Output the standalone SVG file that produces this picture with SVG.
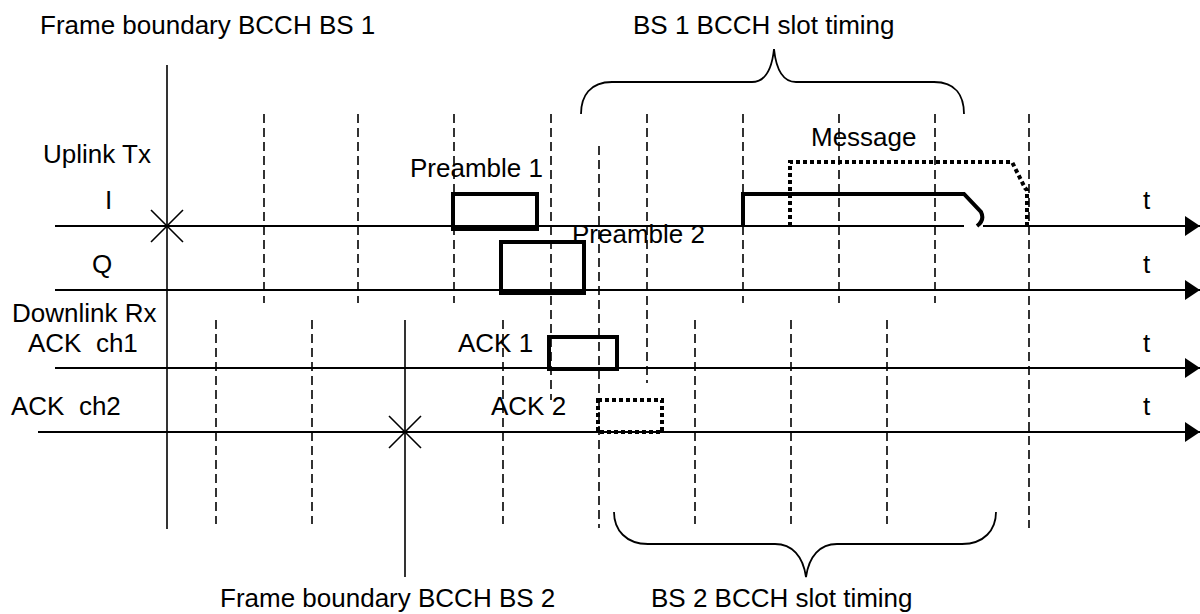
<svg xmlns="http://www.w3.org/2000/svg" width="1200" height="614" viewBox="0 0 1200 614">
<defs>
<style>
text{font-family:"Liberation Sans",Arial,sans-serif;font-size:26px;fill:#000;white-space:pre}
.axis{stroke:#000;stroke-width:2;fill:none}
.solid{stroke:#000;stroke-width:1.6;fill:none}
.dash{stroke:#000;stroke-width:1.6;stroke-dasharray:9 5;fill:none}
.thick{stroke:#000;stroke-width:4;fill:none}
.dot{stroke:#000;stroke-width:4;stroke-dasharray:4 3;fill:none}
.brace{stroke:#000;stroke-width:1.8;fill:none}
</style>
<marker id="arr" markerWidth="15" markerHeight="20" refX="15" refY="10" orient="auto" markerUnits="userSpaceOnUse">
<path d="M0,0 L15,10 L0,20 Z" fill="#000"/>
</marker>
</defs>
<rect width="1200" height="614" fill="#fff"/>

<g id="slot-lines">
<line class="dash" x1="264" y1="114" x2="264" y2="303"/>
<line class="dash" x1="358" y1="114" x2="358" y2="303"/>
<line class="dash" x1="454" y1="114" x2="454" y2="303"/>
<line class="dash" x1="551" y1="114" x2="551" y2="400"/>
<line class="dash" x1="647" y1="114" x2="647" y2="383"/>
<line class="dash" x1="743" y1="114" x2="743" y2="303"/>
<line class="dash" x1="839" y1="114" x2="839" y2="303"/>
<line class="dash" x1="935" y1="114" x2="935" y2="303"/>
<line class="dash" x1="1029" y1="114" x2="1029" y2="528"/>
<line class="dash" x1="216" y1="320" x2="216" y2="524"/>
<line class="dash" x1="312" y1="320" x2="312" y2="524"/>
<line class="dash" x1="503" y1="320" x2="503" y2="524"/>
<line class="dash" x1="599" y1="146" x2="599" y2="528"/>
<line class="dash" x1="695" y1="320" x2="695" y2="524"/>
<line class="dash" x1="791" y1="320" x2="791" y2="524"/>
<line class="dash" x1="887" y1="320" x2="887" y2="524"/>
</g>

<g id="frame-boundaries">
<line class="solid" x1="167" y1="65" x2="167" y2="529"/>
<line class="solid" x1="405" y1="320" x2="405" y2="577"/>
<path class="solid" d="M151,210 L183,242 M151,242 L183,210"/>
<path class="solid" d="M389,416 L421,448 M389,448 L421,416"/>
</g>

<g id="connectors">
<line class="axis" x1="55" y1="226" x2="964" y2="226"/>
<line class="axis" x1="983" y1="226" x2="1200" y2="226" marker-end="url(#arr)"/>
<line class="axis" x1="55" y1="290" x2="1200" y2="290" marker-end="url(#arr)"/>
<line class="axis" x1="55" y1="368" x2="1200" y2="368" marker-end="url(#arr)"/>
<line class="axis" x1="38" y1="432" x2="1200" y2="432" marker-end="url(#arr)"/>
</g>

<g id="preamble1"><rect class="thick" x="453" y="194" width="84" height="35"/></g>
<g id="preamble2"><rect class="thick" x="501" y="242" width="83" height="51"/></g>
<g id="ack1"><rect class="thick" x="549" y="337" width="68" height="32"/></g>
<g id="ack2"><rect class="dot" x="598" y="400" width="64" height="32"/></g>

<g id="message">
<path class="thick" d="M743,226 L743,194 L964,194 L981,212 Q985,220 977,226"/>
<path class="dot" d="M790,226 L790,162 L1012,162 L1025,188 L1027,190 L1027,226"/>
</g>

<g id="braces">
<path class="brace" d="M581,114 C581,96 590,82 612,82 L752,82 C766,82 772,68 774,49 C776,68 782,82 796,82 L934,82 C956,82 964,96 964,114"/>
<path class="brace" d="M614,512 C614,530 626,544 648,544 L775,544 C792,544 803,556 806,577 C809,556 820,544 837,544 L962,544 C984,544 996,530 996,512"/>
</g>

<g id="labels">
<text x="40" y="34">Frame boundary BCCH BS 1</text>
<text x="633" y="34">BS 1 BCCH slot timing</text>
<text x="43" y="163">Uplink Tx</text>
<text x="105" y="209">I</text>
<text x="92" y="273">Q</text>
<text x="12" y="322">Downlink Rx</text>
<text x="28" y="352" xml:space="preserve">ACK  ch1</text>
<text x="11" y="415" xml:space="preserve">ACK  ch2</text>
<text x="410" y="177">Preamble 1</text>
<text x="572" y="243">Preamble 2</text>
<text x="811" y="146">Message</text>
<text x="458" y="352">ACK 1</text>
<text x="491" y="415">ACK 2</text>
<text x="1143" y="209">t</text>
<text x="1143" y="273">t</text>
<text x="1143" y="352">t</text>
<text x="1143" y="415">t</text>
<text x="220" y="607">Frame boundary BCCH BS 2</text>
<text x="651" y="607">BS 2 BCCH slot timing</text>
</g>
</svg>
